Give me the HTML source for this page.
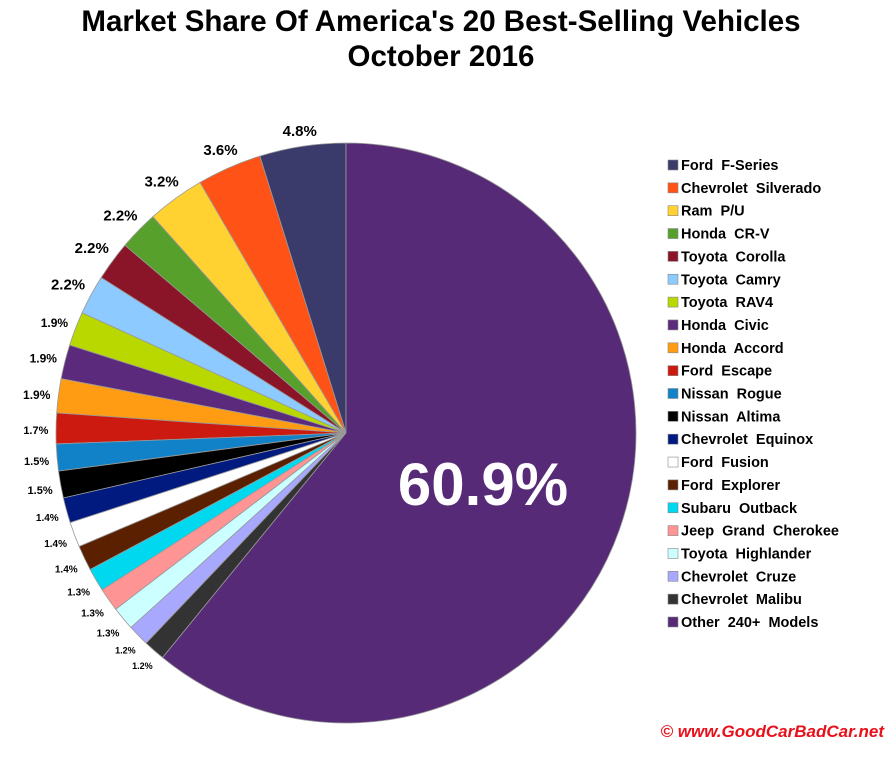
<!DOCTYPE html>
<html><head><meta charset="utf-8"><style>
body{margin:0;background:#fff;}
svg text{font-family:"Liberation Sans",Arial,sans-serif;font-weight:bold;}
</style></head><body>
<svg id="chart" width="892" height="766" viewBox="0 0 892 766" xmlns="http://www.w3.org/2000/svg">
<text x="441" y="31" font-size="29.5" text-anchor="middle">Market Share Of America's 20 Best-Selling Vehicles</text>
<text x="441" y="66" font-size="29.5" text-anchor="middle">October 2016</text>
<g id="slices"></g>
<g id="labels"></g>
<g id="legend"></g>
<text x="884" y="737" font-size="17" font-style="italic" fill="#e8101a" text-anchor="end">© www.GoodCarBadCar.net</text>
</svg>
<script>
const categories=["Ford  F-Series","Chevrolet  Silverado","Ram  P/U","Honda  CR-V","Toyota  Corolla","Toyota  Camry","Toyota  RAV4","Honda  Civic","Honda  Accord","Ford  Escape","Nissan  Rogue","Nissan  Altima","Chevrolet  Equinox","Ford  Fusion","Ford  Explorer","Subaru  Outback","Jeep  Grand  Cherokee","Toyota  Highlander","Chevrolet  Cruze","Chevrolet  Malibu","Other  240+  Models"];
const shares=[4.8,3.6,3.2,2.2,2.2,2.2,1.9,1.9,1.9,1.7,1.5,1.5,1.4,1.4,1.4,1.3,1.3,1.3,1.2,1.2,60.9];
const colors=["#3b3b6b","#ff5216","#ffd232","#58a02c","#8a1528","#8ccaff","#b8d800","#5c2a7c","#ff9c14","#cc1a10","#1282c8","#000000","#001a80","#ffffff","#5a2000","#00d8f0","#ff9494","#ccffff","#a8a8ff","#333333","#562a76"];
const NS="http://www.w3.org/2000/svg";
const cx=346,cy=433,r=290;
const total=shares.reduce((a,b)=>a+b,0);
const gS=document.getElementById('slices'),gL=document.getElementById('labels'),gG=document.getElementById('legend');
function pt(frac,rad){const a=frac*2*Math.PI;return [cx-Math.sin(a)*rad,cy-Math.cos(a)*rad];}
let acc=0;
shares.forEach((v,i)=>{
  const f0=acc/total,f1=(acc+v)/total;acc+=v;
  const [x0,y0]=pt(f0,r),[x1,y1]=pt(f1,r);
  const large=(f1-f0)>0.5?1:0;
  const p=document.createElementNS(NS,'path');
  p.setAttribute('d',`M${cx},${cy}L${x0},${y0}A${r},${r} 0 ${large} 0 ${x1},${y1}Z`);
  p.setAttribute('fill',colors[i]);p.setAttribute('stroke','#999');p.setAttribute('stroke-width','0.8');
  
  
  gS.appendChild(p);
  const t=document.createElementNS(NS,'text');
  t.textContent=v.toFixed(1)+'%';
  if(i===shares.length-1){
    t.setAttribute('x',483);t.setAttribute('y',505);t.setAttribute('font-size','60');t.setAttribute('fill','#fff');t.setAttribute('text-anchor','middle');
  }else{
    const fs=v>=2.2?15:(v>=1.9?12:(v>=1.5?11:(v>=1.3?10:9)));
    const fm=(f0+f1)/2;const a=fm*2*Math.PI;
    const w=fs*2.2;
    const R=r+8+w/2*Math.abs(Math.sin(a))+fs*0.5*Math.abs(Math.cos(a));
    const [lx,ly]=pt(fm,R);
    t.setAttribute('x',lx);t.setAttribute('y',ly+fs*0.35+2);t.setAttribute('font-size',fs);t.setAttribute('text-anchor','middle');
  }
  
  
  gL.appendChild(t);
  const ly=165+i*22.85;
  const s=document.createElementNS(NS,'rect');
  s.setAttribute('x',668);s.setAttribute('y',ly-5);s.setAttribute('width',10);s.setAttribute('height',10);
  s.setAttribute('fill',colors[i]);s.setAttribute('stroke','#888');s.setAttribute('stroke-width','0.6');
  
  
  gG.appendChild(s);
  const lt=document.createElementNS(NS,'text');
  lt.textContent=categories[i];lt.setAttribute('x',681);lt.setAttribute('y',ly+5);lt.setAttribute('font-size','14.5');
  lt.setAttribute('xml:space','preserve');lt.style.whiteSpace='pre';
  
  
  gG.appendChild(lt);
});
</script>
</body></html>
